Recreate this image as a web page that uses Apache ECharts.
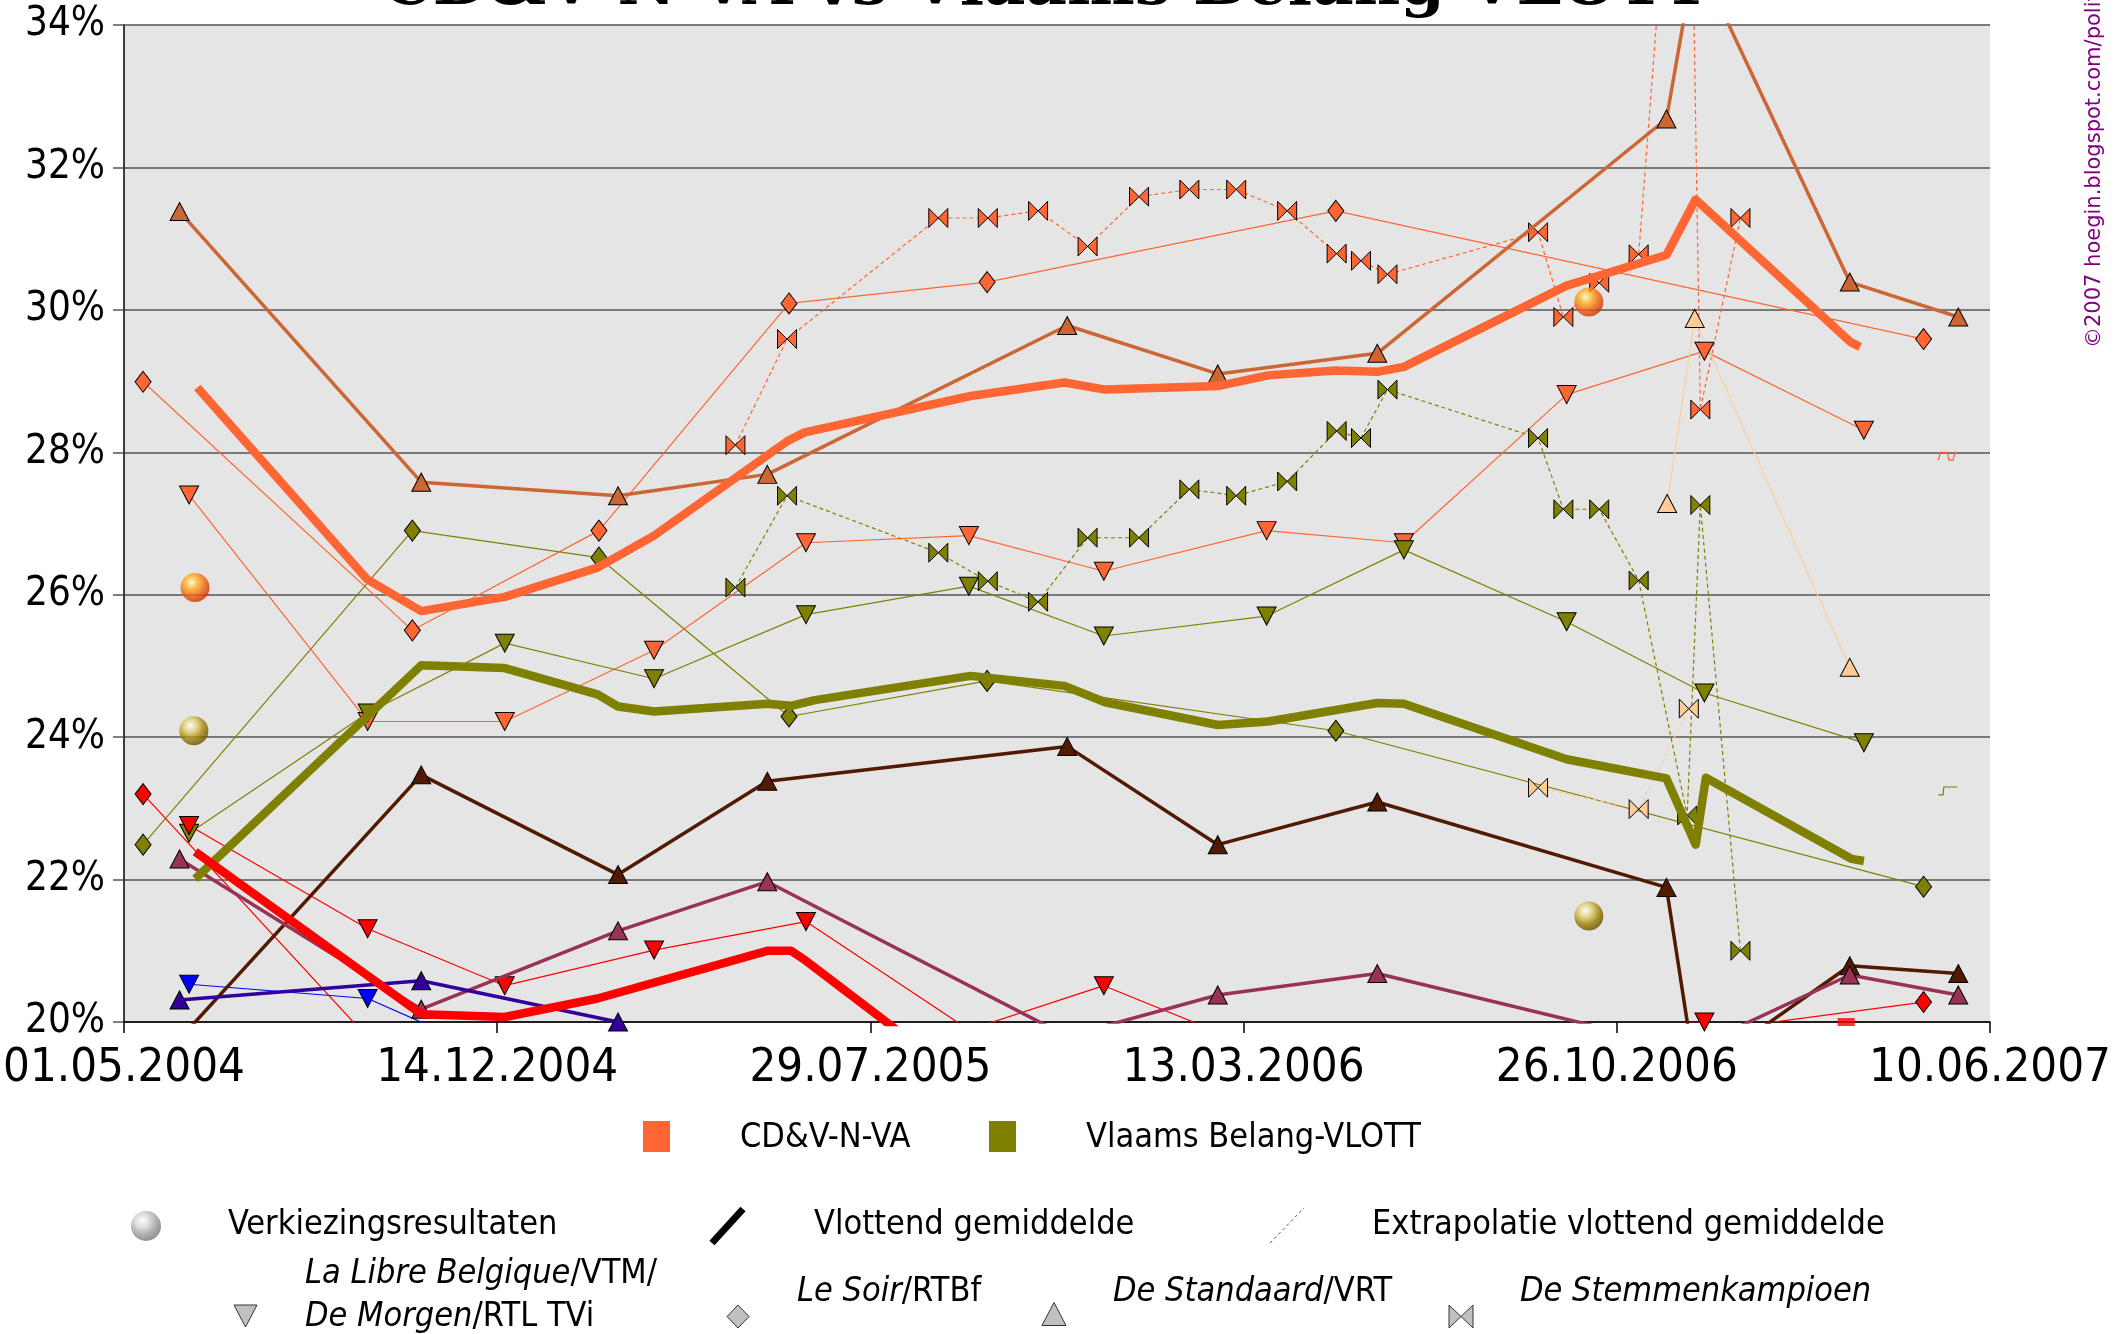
<!DOCTYPE html>
<html><head><meta charset="utf-8">
<script src="https://cdn.jsdelivr.net/npm/echarts@6/dist/echarts.min.js"></script>
<style>html,body{margin:0;padding:0;background:#fff}#c{width:2128px;height:1334px}</style>
</head><body><div id="c"></div>
<script>
// x values: days since 01.05.2004 ; y values: percent
const xTickLabels = ['01.05.2004','14.12.2004','29.07.2005','13.03.2006','26.10.2006','10.06.2007'];
const yTickLabels = ['20%','22%','24%','26%','28%','30%','32%','34%'];

const cdvMovingAvg = [[44.6,28.91],[147.7,26.22],[180.8,25.77],[231.6,25.97],[288,26.38],[322.4,26.83],[403.7,28.16],[414,28.28],[515,28.79],[572,28.98],[596.8,28.88],[665.4,28.93],[695.9,29.08],[737,29.15],[762.3,29.13],[778.5,29.20],[877.5,30.34],[938.2,30.77],[955.9,31.55],[1050,29.55],[1056,29.48]];
const vbMovingAvg = [[43.3,22.01],[180.8,25.01],[231.6,24.97],[288,24.60],[300.5,24.43],[322.4,24.36],[391.3,24.47],[405.7,24.44],[420.2,24.52],[515,24.86],[572,24.72],[596.8,24.49],[665.4,24.17],[695.9,24.22],[762.3,24.48],[778.5,24.47],[877.5,23.69],[938.2,23.42],[956,22.49],[962.2,23.43],[1050.9,22.29],[1058.3,22.26]];

const cdvLaLibre = [[39.6,27.40],[148.2,24.22],[231.6,24.22],[322.4,25.22],[414.8,26.73],[513.9,26.83],[596,26.33],[695,26.90],[778.5,26.73],[877.5,28.81],[961.3,29.42],[1058.3,28.31]];
const vbLaLibre = [[39.6,22.65],[148.2,24.34],[231.6,25.32],[322.4,24.82],[414.8,25.72],[513.9,26.12],[596,25.42],[695,25.70],[778.5,26.63],[877.5,25.62],[961.3,24.62],[1058.3,23.92]];

const cdvLeSoir = [[11.6,28.99],[175.4,25.50],[288.9,26.90],[404.5,30.09],[525,30.39],[737.1,31.39],[1094.6,29.59]];
const vbLeSoir = [[11.6,22.49],[175.4,26.90],[288.9,26.52],[404.5,24.29],[525,24.79],[737.1,24.09],[1094.6,21.90]];

const cdvStandaard = [[33.8,31.38],[180.8,27.58],[300.5,27.39],[391.3,27.69],[573.7,29.78],[665.3,29.10],[762.3,29.39],[938.2,32.68],[955.8,35.0],[1049.7,30.39],[1115.7,29.90]];

const cdvStemmen = [[371.9,28.10],[403.3,29.59],[495.3,31.29],[525.4,31.29],[556,31.39],[586.1,30.89],[617.4,31.59],[648,31.69],[676.5,31.69],[707.5,31.39],[737.6,30.79],[752.4,30.69],[768.5,30.50],[860.1,31.09],[875.5,29.90],[897.3,30.38],[921.3,30.78],[951,39.7],[958.8,28.60],[983.2,31.29]];
const vbStemmen = [[371.9,26.10],[403.3,27.39],[495.3,26.59],[525.4,26.19],[556,25.90],[586.1,26.80],[617.4,26.80],[648,27.48],[676.5,27.39],[707.5,27.59],[737.6,28.30],[752.4,28.20],[768.5,28.88],[860.1,28.20],[875.5,27.20],[897.3,27.20],[921.3,26.20],[950.8,22.90],[958.8,27.26],[983.2,21.0]];

const peachStandaard = [[938.6,27.28],[955.4,29.88],[1049.7,24.98]];
const peachStemmen = [[860.1,23.29],[921.3,22.99],[951.8,24.40]];

const brownStandaard = [[33.8,19.76],[180.8,23.47],[300.5,22.07],[391.3,23.38],[573.7,23.87],[665.3,22.49],[762.3,23.09],[938.2,21.89],[955.8,19.26],[1049.7,20.79],[1115.7,20.68]];
const maroonStandaard = [[33.8,22.29],[180.8,20.18],[300.5,21.28],[391.3,21.97],[573.7,19.80],[665.3,20.38],[762.3,20.68],[938.2,19.70],[955.8,19.65],[1049.7,20.66],[1115.7,20.38]];
const indigoStandaard = [[33.8,20.31],[180.8,20.58],[300.5,20.0]];
const blueLaLibre = [[39.6,20.53],[148.2,20.33],[231.6,19.48]];

const redMovingAvg = [[43.3,22.39],[180.8,20.11],[231.6,20.07],[288,20.33],[391.3,21.0],[405.7,21.0],[414.8,20.86],[461.4,20.04],[480,19.71]];
const redLaLibre = [[39.6,22.76],[148.2,21.31],[231.6,20.51],[322.4,21.01],[414.8,21.41],[513.9,19.89],[596,20.51],[695,19.58],[961.3,20.0]];
const redLeSoir = [[11.6,23.2],[175.4,19.1],[737.1,19.18],[1094.6,20.28]];
const redSquare = [[1047.5,20.0]];

const cdvElection = [[43.2,26.1],[891,30.11]];
const vbElection = [[42.5,24.09],[891,21.49]];

const cdvExtrapolation = [[1103.5,27.89],[1104.9,28.0],[1109.0,28.0],[1110.0,27.89],[1112.6,27.89],[1113.6,28.0],[1114.6,28.0]];
const vbExtrapolation = [[1103.5,23.19],[1106.5,23.19],[1106.9,23.30],[1115.0,23.30]];

const FN = "'DejaVu Sans Condensed', 'DejaVu Sans', sans-serif";
const LFN = "'DejaVu Sans Condensed', 'DejaVu Sans', sans-serif";
const BOWTIE = 'path://M0,0L10,5L0,10ZM20,0L10,5L20,10Z';

function poll(name, data, color, symbol, opts) {
  opts = opts || {};
  return {
    name, type: 'line', data, clip: true, silent: true, animation: false,
    symbol: symbol === 'down' ? 'triangle' : symbol,
    symbolRotate: symbol === 'down' ? 180 : 0,
    symbolSize: opts.size || (symbol === 'diamond' ? [16, 21] : (symbol === BOWTIE ? [19, 19] : [19, 18])),
    showSymbol: symbol !== 'none',
    lineStyle: { color: opts.lineColor || color, width: opts.width || 1.2, type: opts.dash ? [4, 3] : 'solid' },
    itemStyle: { color, borderColor: '#000', borderWidth: 1 },
    z: opts.z || 2,
    emphasis: { disabled: true }
  };
}
function avg(name, data, color) {
  return { name, type: 'line', data, clip: true, silent: true, animation: false, symbol: 'none',
    lineStyle: { color, width: 8.5, join: 'round', cap: 'butt' }, z: 4, emphasis: { disabled: true } };
}
function sphere(stops) {
  return new echarts.graphic.RadialGradient(0.38, 0.32, 0.7, stops.map((c, i) => ({ offset: i / (stops.length - 1), color: c })));
}

const series = [
  poll('CD&V Le Soir', cdvLeSoir, '#FF6633', 'diamond'),
  poll('VB Le Soir', vbLeSoir, '#808000', 'diamond'),
  poll('Red Le Soir', redLeSoir, '#FF0000', 'diamond'),
  poll('CD&V La Libre', cdvLaLibre, '#FF6633', 'down'),
  poll('VB La Libre', vbLaLibre, '#808000', 'down'),
  poll('Red La Libre', redLaLibre, '#FF0000', 'down'),
  poll('Blue La Libre', blueLaLibre, '#0000FF', 'down'),
  poll('CD&V Stemmen', cdvStemmen, '#FF6633', BOWTIE, { dash: true }),
  poll('VB Stemmen', vbStemmen, '#808000', BOWTIE, { dash: true }),
  poll('Peach Stemmen', peachStemmen, '#FFCC99', BOWTIE, { dash: true }),
  poll('Peach Standaard', peachStandaard, '#FFCC99', 'triangle', { width: 1.2 }),
  poll('CD&V Standaard', cdvStandaard, '#CC6633', 'triangle', { width: 3.5, z: 3 }),
  poll('Brown Standaard', brownStandaard, '#521A00', 'triangle', { width: 3.5, z: 3 }),
  poll('Maroon Standaard', maroonStandaard, '#993355', 'triangle', { width: 3.5, z: 3 }),
  poll('Indigo Standaard', indigoStandaard, '#330099', 'triangle', { width: 3.5, z: 3 }),
  avg('CD&V-N-VA', cdvMovingAvg, '#FF6633'),
  avg('Vlaams Belang-VLOTT', vbMovingAvg, '#808000'),
  avg('Red avg', redMovingAvg, '#FF0000'),
  { type: 'line', data: cdvExtrapolation, symbol: 'none', silent: true, animation: false, lineStyle: { color: '#FF6633', width: 1.2 }, z: 2 },
  { type: 'line', data: vbExtrapolation, symbol: 'none', silent: true, animation: false, lineStyle: { color: '#808000', width: 1.2 }, z: 2 },
  { type: 'scatter', data: redSquare, symbol: 'rect', symbolSize: [17, 8], silent: true, animation: false, itemStyle: { color: '#FF0000' }, z: 5 },
  { type: 'scatter', data: cdvElection, symbol: 'circle', symbolSize: 29, silent: true, animation: false,
    itemStyle: { color: sphere(['#FFFFD0', '#FFB020', '#F06010', '#C83000']) }, z: 6 },
  { type: 'scatter', data: vbElection, symbol: 'circle', symbolSize: 29, silent: true, animation: false,
    itemStyle: { color: sphere(['#FFFFFF', '#E0D070', '#A08000', '#605000']) }, z: 6 }
];

function txt(x, y, text, extra) {
  return { type: 'text', x, y, silent: true, style: Object.assign({ text, fill: '#000', font: '34px ' + LFN, textAlign: 'left', textVerticalAlign: 'middle', verticalAlign: 'middle' }, extra || {}) };
}
const italicRich = { i: { fontStyle: 'italic', fontSize: 34, fontFamily: LFN, fill: '#000' }, n: { fontSize: 34, fontFamily: LFN, fill: '#000' } };
function rtxt(x, y, text) {
  return { type: 'text', x, y, silent: true, style: { text, fill: '#000', fontSize: 34, fontFamily: LFN, rich: italicRich, textAlign: 'left', verticalAlign: 'middle', textVerticalAlign: 'middle' } };
}
const greyFill = '#C0C0C0', greyStroke = '#333';

const graphic = [
  { type: 'text', x: 1046, y: -13, silent: true, style: { text: 'CD&V-N-VA vs Vlaams Belang-VLOTT', font: 'bold 64px "DejaVu Serif", serif', fill: '#000', textAlign: 'center', textVerticalAlign: 'middle', verticalAlign: 'middle' } },
  { type: 'text', x: 2095, y: 348, rotation: Math.PI / 2, silent: true, style: { text: '©2007 hoegin.blogspot.com/politiek', font: '21px "DejaVu Sans", sans-serif', fill: '#800080', textAlign: 'left', textVerticalAlign: 'middle', verticalAlign: 'middle' } },
  // legend row 1
  { type: 'rect', shape: { x: 643, y: 1121, width: 27, height: 31 }, style: { fill: '#FF6633' }, silent: true },
  txt(740, 1138, 'CD&V-N-VA'),
  { type: 'rect', shape: { x: 989, y: 1121, width: 27, height: 31 }, style: { fill: '#808000' }, silent: true },
  txt(1086, 1138, 'Vlaams Belang-VLOTT'),
  // legend row 2
  { type: 'circle', shape: { cx: 146, cy: 1226, r: 15 }, style: { fill: sphere(['#FFFFFF', '#DDDDDD', '#B0B0B0', '#909090']) }, silent: true },
  txt(228, 1225, 'Verkiezingsresultaten'),
  { type: 'line', shape: { x1: 712, y1: 1243, x2: 743, y2: 1209 }, style: { stroke: '#000', lineWidth: 7 }, silent: true },
  txt(814, 1225, 'Vlottend gemiddelde'),
  { type: 'line', shape: { x1: 1270, y1: 1243, x2: 1304, y2: 1208 }, style: { stroke: '#555', lineWidth: 1, lineDash: [3, 3] }, silent: true },
  txt(1372, 1225, 'Extrapolatie vlottend gemiddelde'),
  // legend row 3
  { type: 'polygon', shape: { points: [[234, 1305], [257, 1305], [245.5, 1327]] }, style: { fill: greyFill, stroke: greyStroke, lineWidth: 1 }, silent: true },
  rtxt(305, 1274, '{i|La Libre Belgique}{n|/VTM/}'),
  rtxt(305, 1317, '{i|De Morgen}{n|/RTL TVi}'),
  { type: 'polygon', shape: { points: [[738, 1305], [749, 1316.5], [738, 1328], [727, 1316.5]] }, style: { fill: greyFill, stroke: greyStroke, lineWidth: 1 }, silent: true },
  rtxt(797, 1292, '{i|Le Soir}{n|/RTBf}'),
  { type: 'polygon', shape: { points: [[1054, 1302.5], [1066, 1325.5], [1042, 1325.5]] }, style: { fill: greyFill, stroke: greyStroke, lineWidth: 1 }, silent: true },
  rtxt(1113, 1292, '{i|De Standaard}{n|/VRT}'),
  { type: 'polygon', shape: { points: [[1449, 1305], [1461, 1316.5], [1449, 1328]] }, style: { fill: greyFill, stroke: greyStroke, lineWidth: 1 }, silent: true },
  { type: 'polygon', shape: { points: [[1473, 1305], [1461, 1316.5], [1473, 1328]] }, style: { fill: greyFill, stroke: greyStroke, lineWidth: 1 }, silent: true },
  rtxt(1520, 1292, '{i|De Stemmenkampioen}')
];

const chart = echarts.init(document.getElementById('c'), null, { renderer: 'canvas', width: 2128, height: 1334 });
chart.setOption({
  animation: false,
  backgroundColor: '#FFFFFF',
  grid: { left: 124, top: 25, width: 1866, height: 997, show: true, backgroundColor: '#E5E5E5', borderWidth: 0, containLabel: false, outerBoundsMode: 'none' },
  xAxis: {
    type: 'value', min: 0, max: 1135, interval: 227,
    axisLine: { show: true, onZero: false, lineStyle: { color: '#000', width: 1.5 } },
    axisTick: { show: true, length: 11, lineStyle: { color: '#000', width: 1.5 } },
    splitLine: { show: false },
    axisLabel: { formatter: v => xTickLabels[Math.round(v / 227)], fontSize: 47, fontFamily: FN, color: '#000', margin: 23, showMinLabel: true, showMaxLabel: true, hideOverlap: false }
  },
  yAxis: {
    type: 'value', min: 20, max: 34, interval: 2,
    axisLine: { show: true, onZero: false, lineStyle: { color: '#000', width: 1.5 } },
    axisTick: { show: true, length: 11, lineStyle: { color: '#555', width: 1.5 } },
    splitLine: { show: true, lineStyle: { color: '#555', width: 1.5 } },
    axisLabel: { formatter: v => yTickLabels[Math.round((v - 20) / 2)], fontSize: 40, fontFamily: FN, color: '#000', margin: 19 }
  },
  series,
  graphic
});
</script>
</body></html>
